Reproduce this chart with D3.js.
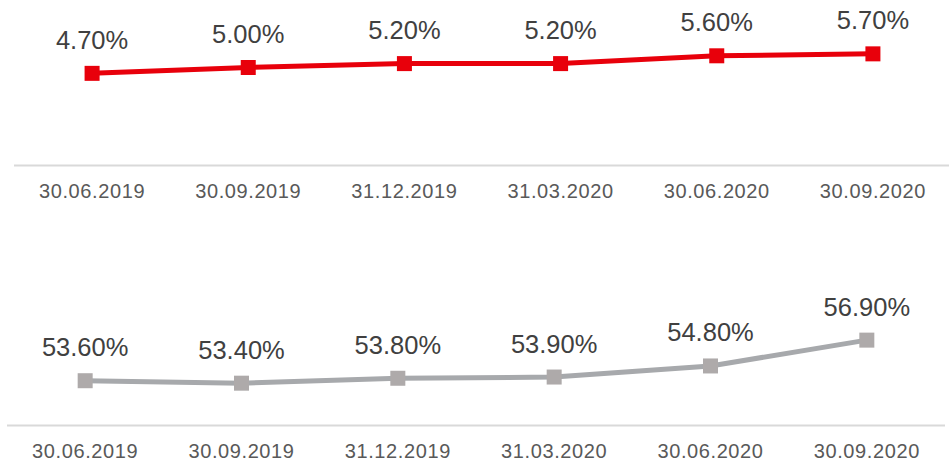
<!DOCTYPE html>
<html>
<head>
<meta charset="utf-8">
<script src="https://cdn.jsdelivr.net/npm/d3@7"></script>
<style>
  body { margin: 0; background: #fff; }
  svg { display: block; font-family: "Liberation Sans", Arial, sans-serif; }
  .tick-label { fill: #595959; font-size: 20px; letter-spacing: 0.6px; }
  .value-label { fill: #404040; font-size: 25.5px; }
</style>
</head>
<body>
<div id="chart"></div>
<script>
(function() {
  'use strict';

  var dates = ['30.06.2019', '30.09.2019', '31.12.2019', '31.03.2020', '30.06.2020', '30.09.2020'];
  var topValues = [4.70, 5.00, 5.20, 5.20, 5.60, 5.70];
  var bottomValues = [53.60, 53.40, 53.80, 53.90, 54.80, 56.90];

  var width = 949, height = 464;

  var svg = d3.select('#chart').append('svg')
    .attr('width', width)
    .attr('height', height);

  // one small panel per series
  function drawPanel(opts) {
    var x = d3.scalePoint()
      .domain(dates)
      .range([opts.left, opts.right])
      .padding(0.5);

    var y = d3.scaleLinear()
      .domain(opts.domain)
      .range([opts.axisY, opts.axisY - opts.span]);

    var g = svg.append('g');

    g.append('line')
      .attr('x1', opts.left)
      .attr('x2', opts.right)
      .attr('y1', opts.axisY + 0.5)
      .attr('y2', opts.axisY + 0.5)
      .attr('stroke', '#d9d9d9')
      .attr('stroke-width', 2);

    g.selectAll('.tick-label')
      .data(dates)
      .enter().append('text')
      .attr('class', 'tick-label')
      .attr('text-anchor', 'middle')
      .attr('x', function(d) { return x(d); })
      .attr('y', opts.axisY + 33)
      .text(function(d) { return d; });

    var line = d3.line()
      .x(function(d, i) { return x(dates[i]); })
      .y(function(d) { return y(d); });

    g.append('path')
      .datum(opts.values)
      .attr('fill', 'none')
      .attr('stroke', opts.lineColor)
      .attr('stroke-width', 5)
      .attr('d', line);

    g.selectAll('.marker')
      .data(opts.values)
      .enter().append('rect')
      .attr('class', 'marker')
      .attr('x', function(d, i) { return x(dates[i]) - 7.5; })
      .attr('y', function(d) { return y(d) - 7.5; })
      .attr('width', 15)
      .attr('height', 15)
      .attr('fill', opts.markerColor);

    g.selectAll('.value-label')
      .data(opts.values)
      .enter().append('text')
      .attr('class', 'value-label')
      .attr('text-anchor', 'middle')
      .attr('x', function(d, i) { return x(dates[i]); })
      .attr('y', function(d) { return y(d) - 24.5; })
      .text(function(d) { return d.toFixed(2) + '%'; });
  }

  drawPanel({
    values: topValues,
    left: 14, right: 951,
    axisY: 165,
    domain: [0, 8], span: 156,
    lineColor: '#e8000b',
    markerColor: '#e8000b'
  });

  drawPanel({
    values: bottomValues,
    left: 7, right: 945,
    axisY: 425,
    domain: [50, 60], span: 123,
    lineColor: '#a7a9ac',
    markerColor: '#aeaaaa'
  });
})();
</script>
</body>
</html>
